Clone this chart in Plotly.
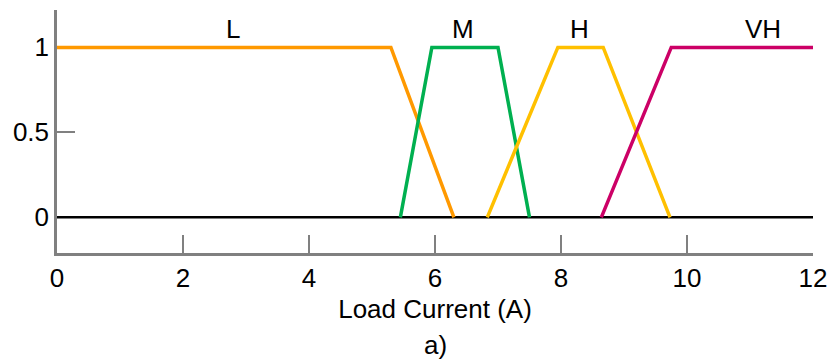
import plotly.graph_objects as go

# Membership functions (x in A, y membership)
L_x = [0, 5.3, 6.3]
L_y = [1, 1, 0]
M_x = [5.45, 5.95, 7.0, 7.5]
M_y = [0, 1, 1, 0]
H_x = [6.83, 7.95, 8.67, 9.73]
H_y = [0, 1, 1, 0]
VH_x = [8.64, 9.75, 12]
VH_y = [0, 1, 1]
base_x = [0, 12]
base_y = [0, 0]

labels = ["L", "M", "H", "VH"]
label_x = [2.8, 6.45, 8.3, 11.2]
label_y = [1.11, 1.11, 1.11, 1.11]

x_ticks = [0, 2, 4, 6, 8, 10, 12]
y_ticks = [0, 0.5, 1]

colors = {"L": "#FF9900", "M": "#00B050", "H": "#FFC000", "VH": "#CC0066"}
FONT = "Liberation Sans, Arial"

fig = go.Figure()
fig.add_trace(go.Scatter(x=base_x, y=base_y, mode="lines",
                         line=dict(color="black", width=2.5), showlegend=False))
for name, xs, ys in [("L", L_x, L_y), ("M", M_x, M_y), ("H", H_x, H_y), ("VH", VH_x, VH_y)]:
    fig.add_trace(go.Scatter(x=xs, y=ys, mode="lines", name=name,
                             line=dict(color=colors[name], width=3.5), showlegend=False))

for t, lx, ly in zip(labels, label_x, label_y):
    fig.add_annotation(x=lx, y=ly, text=t, showarrow=False,
                       font=dict(size=26, color="black", family=FONT))

fig.add_annotation(x=0.5, xref="paper", y=-0.45, yref="paper", text="a)", showarrow=False,
                   font=dict(size=26, color="black", family=FONT))

fig.update_layout(
    width=831, height=364,
    margin=dict(l=57, r=18, t=10, b=111),
    plot_bgcolor="white", paper_bgcolor="white",
    font=dict(family=FONT, size=26, color="black"),
    xaxis=dict(range=[0, 12], tickvals=x_ticks, ticks="inside", ticklen=18, tickwidth=2,
               tickcolor="#808080", showline=True, linecolor="#808080", linewidth=2.5,
               showgrid=False, zeroline=False, layer="below traces", automargin=False,
               tickfont=dict(size=26),
               title=dict(text="Load Current (A)", font=dict(size=26), standoff=8)),
    yaxis=dict(range=[-0.21, 1.22], tickvals=y_ticks, ticktext=["0", "0.5", "1"],
               ticks="inside", ticklen=18, tickwidth=2, layer="below traces", automargin=False,
               tickcolor="#808080", showline=True, linecolor="#808080", linewidth=2.5,
               showgrid=False, zeroline=False, tickfont=dict(size=26)),
)

fig.write_html("out.html")
